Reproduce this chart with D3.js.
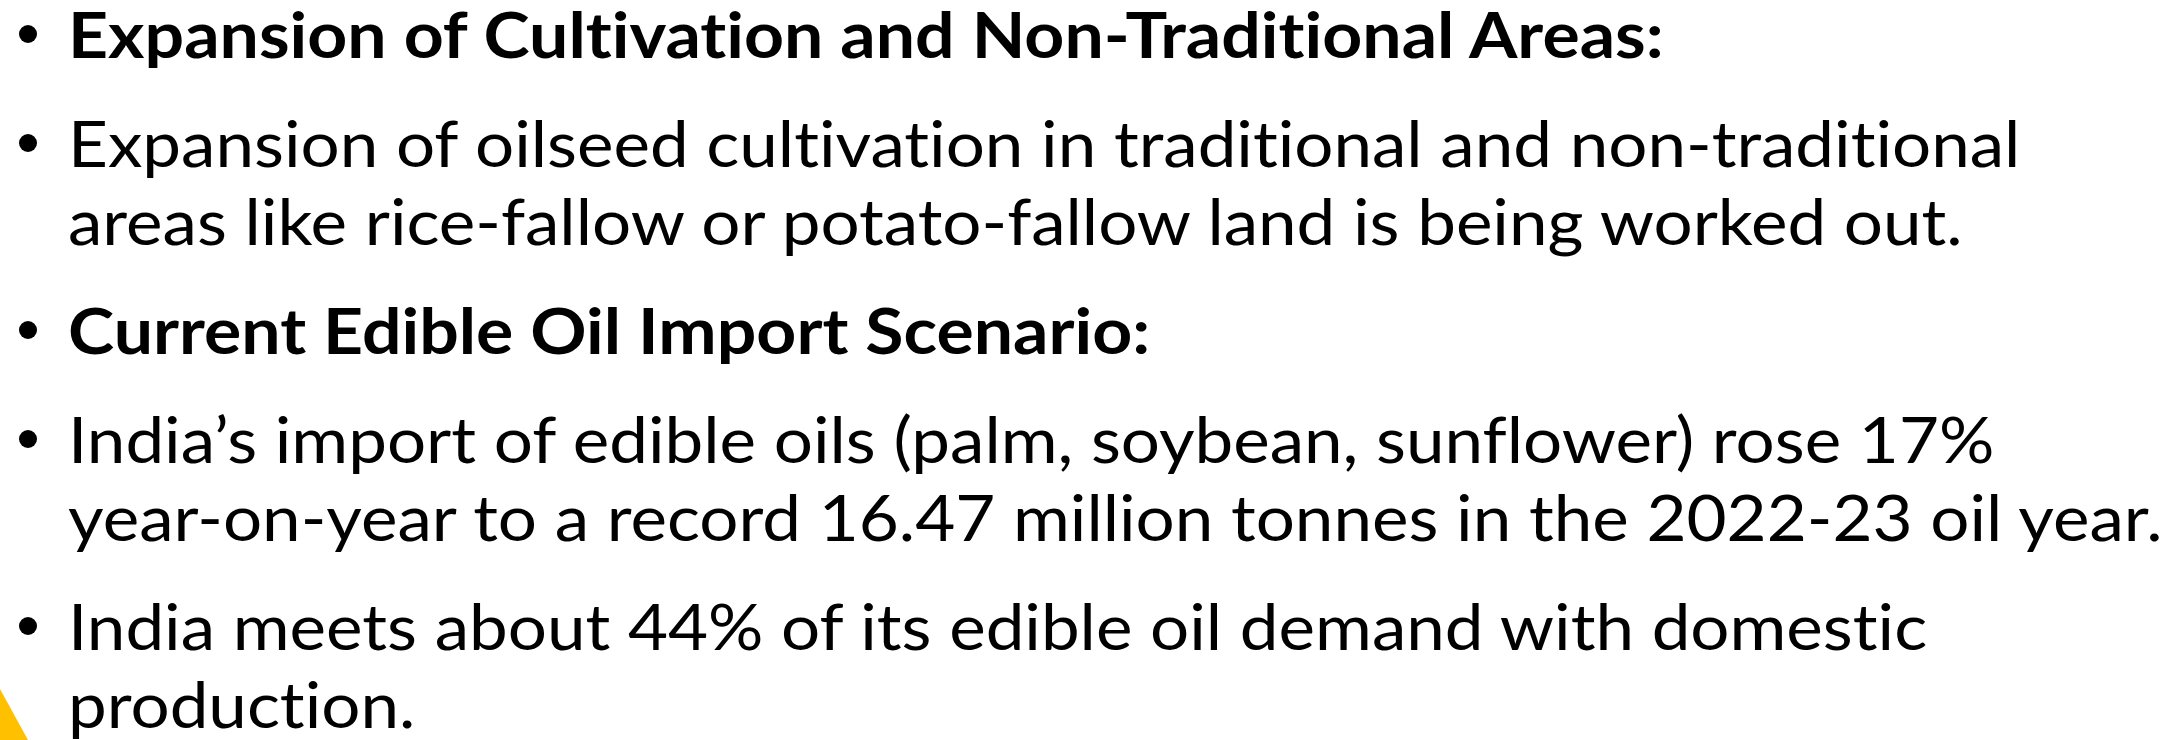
<!DOCTYPE html>
<html>
<head>
<meta charset="utf-8">
<script src="https://cdn.jsdelivr.net/npm/d3@7"></script>
<style>
  body { margin: 0; background: #fff; }
  #container { width: 2168px; height: 740px; overflow: hidden; }
  text { font-variant-ligatures: none; font-feature-settings: "liga" 0, "clig" 0; }
</style>
</head>
<body>
<div id="container"></div>
<script>
// slide lines: text, heading flag, paragraph number, does the line start a bullet
const lines = [
  "Expansion of Cultivation and Non-Traditional Areas:",
  "Expansion of oilseed cultivation in traditional and non-traditional",
  "areas like rice-fallow or potato-fallow land is being worked out.",
  "Current Edible Oil Import Scenario:",
  "India\u2019s import of edible oils (palm, soybean, sunflower) rose 17%",
  "year-on-year to a record 16.47 million tonnes in the 2022-23 oil year.",
  "India meets about 44% of its edible oil demand with domestic",
  "production."
]
const heading = [true, false, false, true, false, false, false, false]
const paragraph = [0, 1, 1, 2, 3, 3, 4, 4]
const bulletStart = [true, true, false, true, true, false, true, false]

const width = 2168
const height = 740

let svg = d3.select("#container")
    .append("svg")
    .attr("width", width)
    .attr("height", height)

const lineHeight = 78
const paraGap = 31
const firstBaseline = 58

let yScale = d3.scaleLinear()
    .domain([0, 1])
    .range([firstBaseline, firstBaseline + lineHeight])

const baseline = i => yScale(i) + paraGap * paragraph[i]

// yellow corner shape, bottom left
svg.append("path")
    .attr("d", d3.line()([[0, 689], [0, 740], [28, 740]]) + "Z")
    .attr("fill", "#FFC000")

const textX = 68

let g = svg.append("g")

g.selectAll("circle")
    .data(d3.range(lines.length).filter(i => bulletStart[i]))
    .enter()
    .append("circle")
    .attr("cx", 28)
    .attr("cy", d => baseline(d) - 24)
    .attr("r", 9)
    .attr("fill", "#000")

g.selectAll("text")
    .data(lines)
    .enter()
    .append("text")
    .attr("transform", (d, i) => "translate(" + textX + "," + baseline(i) + ") scale(" + (heading[i] ? 1.09 : 1.08) + ",1)")
    .attr("font-family", "Lato, 'Open Sans', sans-serif")
    .attr("font-size", 64)
    .attr("font-weight", (d, i) => heading[i] ? 700 : 400)
    .attr("fill", "#000")
    .text(d => d)
</script>
</body>
</html>
